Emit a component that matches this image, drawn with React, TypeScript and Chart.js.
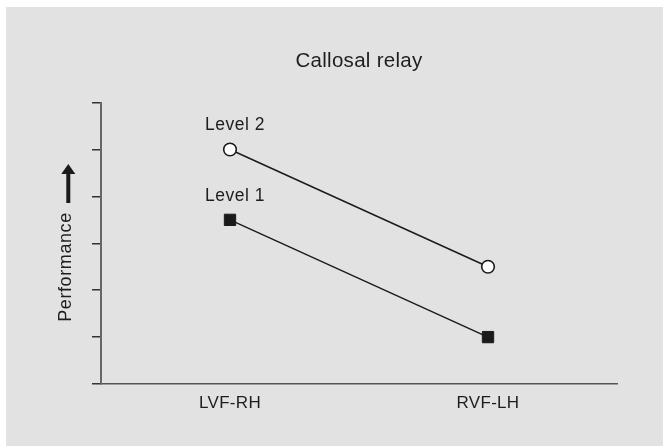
import React, { useEffect, useRef } from "react";
import { Chart, registerables } from "chart.js";

Chart.register(...registerables);

const categories = ["LVF-RH", "RVF-LH"];
const seriesNames = ["Level 2", "Level 1"];
const level2 = [5, 2.5];
const level1 = [3.5, 1];
const yMin = 0;
const yMax = 6;
const yStep = 1;
const chartTitle = "Callosal relay";
const yTitle = "Performance";

const FONT = "'Liberation Sans', Arial, sans-serif";
const TEXT = "#1e1e1e";
const INK = "#1a1a1a";

const overlayPlugin = {
  id: "overlay",
  beforeDraw(chart: any) {
    (chart.ctx as any).letterSpacing = "0.3px";
  },
  afterDatasetsDraw(chart: any) {
    const ctx = chart.ctx;
    ctx.save();
    (ctx as any).letterSpacing = "0.5px";
    ctx.fillStyle = TEXT;
    ctx.font = `17.5px ${FONT}`;
    ctx.textAlign = "center";
    ctx.textBaseline = "middle";
    chart.data.datasets.forEach((ds: any, i: number) => {
      const meta = chart.getDatasetMeta(i);
      const pt = meta.data[0];
      if (!pt) return;
      ctx.fillText(ds.label, pt.x + 5, pt.y - 24);
    });
    ctx.restore();

    // y axis title with arrow
    const cx = 60;
    const cy = 260;
    ctx.save();
    (ctx as any).letterSpacing = "0.6px";
    ctx.translate(cx, cy);
    ctx.rotate(-Math.PI / 2);
    ctx.fillStyle = TEXT;
    ctx.font = `18px ${FONT}`;
    ctx.textAlign = "center";
    ctx.textBaseline = "middle";
    ctx.fillText(yTitle, 0, 0);
    ctx.restore();

    const ax = 62.3;
    const shaftBottom = 196;
    const headBase = 167;
    const tip = 157;
    ctx.save();
    ctx.fillStyle = INK;
    ctx.fillRect(ax - 2, headBase - 1, 4, shaftBottom - headBase + 1);
    ctx.beginPath();
    ctx.moveTo(ax, tip);
    ctx.lineTo(ax + 7, headBase);
    ctx.lineTo(ax - 7, headBase);
    ctx.closePath();
    ctx.fill();
    ctx.restore();
  },
};

export default function App() {
  const ref = useRef<HTMLCanvasElement | null>(null);

  useEffect(() => {
    if (!ref.current) return;
    const chart = new Chart(ref.current, {
      type: "line",
      data: {
        labels: categories,
        datasets: [
          {
            label: seriesNames[0],
            data: level2,
            borderColor: INK,
            borderWidth: 1.4,
            pointStyle: "circle",
            pointRadius: 6.3,
            pointBorderWidth: 1.6,
            pointBackgroundColor: "#ffffff",
            pointBorderColor: INK,
            fill: false,
          },
          {
            label: seriesNames[1],
            data: level1,
            borderColor: INK,
            borderWidth: 1.4,
            pointStyle: "rect",
            pointRadius: 8,
            pointBorderWidth: 1,
            pointBackgroundColor: INK,
            pointBorderColor: INK,
            fill: false,
          },
        ],
      },
      options: {
        animation: false,
        responsive: false,
        maintainAspectRatio: false,
        layout: { padding: { left: 0, right: 46, top: 0, bottom: 0 } },
        plugins: {
          legend: { display: false },
          tooltip: { enabled: false },
          title: {
            display: true,
            text: chartTitle,
            fullSize: false,
            color: TEXT,
            font: { family: FONT, size: 20.5, weight: "normal" },
            padding: { top: 42, bottom: 29 },
          },
        },
        scales: {
          x: {
            type: "category",
            offset: true,
            grid: { display: false },
            border: { display: true, color: "#555555", width: 1.6 },
            ticks: {
              color: TEXT,
              font: { family: FONT, size: 17 },
              padding: 1,
              maxRotation: 0,
            },
            afterFit: (scale: any) => {
              scale.height = 62;
            },
          },
          y: {
            min: yMin,
            max: yMax,
            ticks: { display: false, stepSize: yStep },
            grid: {
              display: true,
              drawOnChartArea: false,
              drawTicks: true,
              tickLength: 9,
              tickColor: "#333333",
              lineWidth: 1.5,
            },
            border: { display: true, color: "#666666", width: 2 },
            afterFit: (scale: any) => {
              scale.width = 95;
            },
          },
        },
      },
      plugins: [overlayPlugin],
    });
    return () => chart.destroy();
  }, []);

  return (
    <div
      style={{
        position: "absolute",
        left: 6,
        top: 7,
        width: 657,
        height: 439,
        background: "#e2e2e2",
      }}
    >
      <canvas ref={ref} width={657} height={439} style={{ display: "block" }} />
    </div>
  );
}
